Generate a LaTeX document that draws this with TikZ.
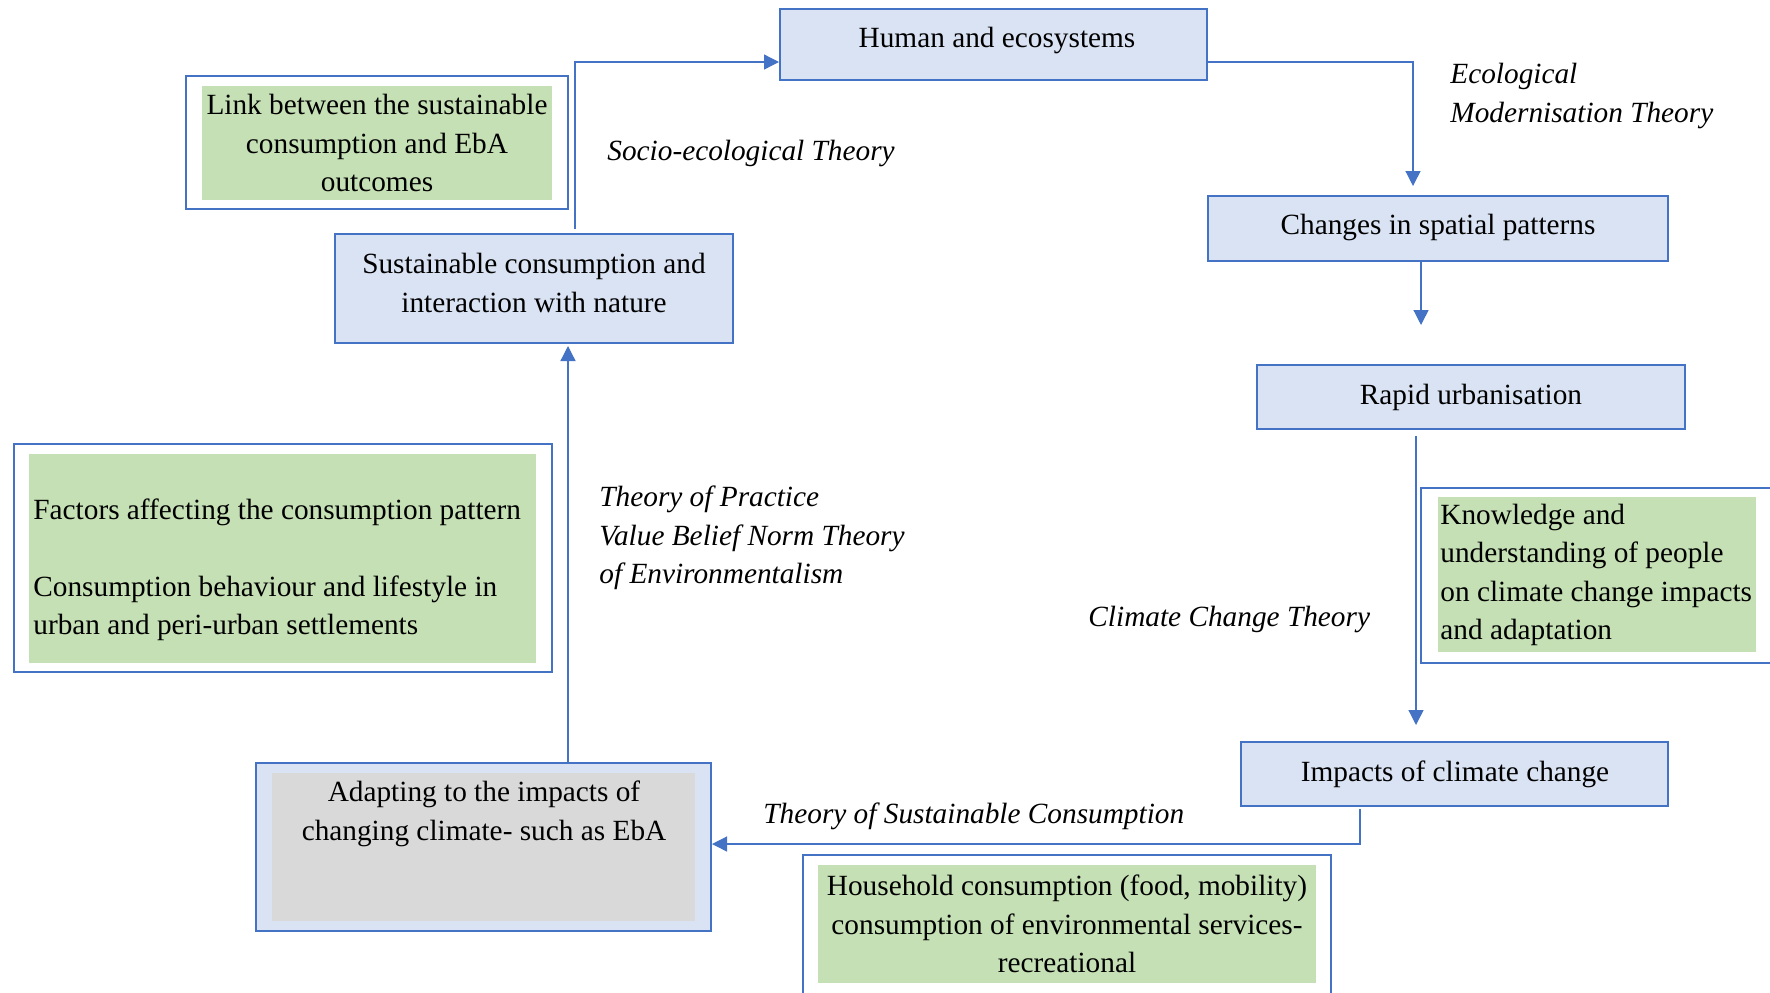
\documentclass[tikz,border=0pt]{standalone}
\usepackage{fontspec}
\setmainfont{Liberation Serif}
\usetikzlibrary{arrows.meta,calc,fit}

\definecolor{cblue}{HTML}{4472C4}
\definecolor{cfill}{HTML}{DAE3F3}
\definecolor{cgreen}{HTML}{C5E0B4}
\definecolor{cgray}{HTML}{D9D9D9}

\newcommand\diagfont{\fontsize{14.65}{19.25}\selectfont}

\tikzset{
  bluebox/.style={draw=cblue, fill=cfill, line width=1pt, inner sep=0pt},
  framebox/.style={draw=cblue, fill=white, line width=1pt, inner sep=0pt},
  greenbox/.style={fill=cgreen, draw=none, inner sep=0pt},
  graybox/.style={fill=cgray, draw=none, inner sep=0pt},
  txt/.style={inner sep=0pt, align=center},
  ltxt/.style={inner sep=0pt, align=left, anchor=west},
  theory/.style={inner sep=0pt, align=left, anchor=west, font=\diagfont\itshape},
  arr/.style={draw=cblue, line width=0.65pt, -{Triangle[length=7.5pt,width=7.5pt]}},
}

\begin{document}
\begin{tikzpicture}[x=0.5pt, y=-0.5pt, font=\diagfont]
\useasboundingbox (0,0) rectangle (1770,992);

% main process boxes
\node[bluebox, fit={(780,9) (1207,80)}] (human) {};
\node[bluebox, fit={(335,234) (733,343)}] (sust) {};
\node[bluebox, fit={(1208,196) (1668,261)}] (changes) {};
\node[bluebox, fit={(1257,365) (1685,429)}] (rapid) {};
\node[bluebox, fit={(1241,742) (1668,806)}] (impacts) {};
\node[bluebox, fit={(256,763) (711,931)}] (adapt) {};
\node[graybox, fit={(272,773) (695,921)}] (adaptin) {};

% framed green notes
\node[framebox, fit={(186,76) (568,209)}] (link) {};
\node[greenbox, fit={(202,86) (552,200)}] (linkin) {};
\node[framebox, fit={(14,444) (552,672)}] (factors) {};
\node[greenbox, fit={(29,454) (536,663)}] (factorsin) {};
\node[framebox, fit={(1421,488) (1780,663)}] (know) {};
\node[greenbox, fit={(1438,497) (1756,652)}] (knowin) {};
\node[framebox, fit={(803,855) (1331,1000)}] (house) {};
\node[greenbox, fit={(818,865) (1316,983)}] (housein) {};

% box texts
\node[txt] (human-t) at (997,40) {Human and ecosystems};
\node[txt] (sust-t) at (534,283) {Sustainable consumption and\\interaction with nature};
\node[txt] (changes-t) at (1438,227) {Changes in spatial patterns};
\node[txt] (rapid-t) at (1471,397) {Rapid urbanisation};
\node[txt] (impacts-t) at (1455,774) {Impacts of climate change};
\node[txt] (adapt-t) at (484,814) {Adapting to the impacts of\\changing climate- such as EbA};
\node[txt] (link-t) at (377,143) {Link between the sustainable\\consumption and EbA\\outcomes};
\node[ltxt] (factors-t) at (33,570) {Factors affecting the consumption pattern\\[19.25pt]Consumption behaviour and lifestyle in\\urban and peri-urban settlements};
\node[ltxt] (know-t) at (1440,575) {Knowledge and\\understanding of people\\on climate change impacts\\and adaptation};
\node[txt] (house-t) at (1067,924) {Household consumption (food, mobility)\\consumption of environmental services-\\recreational};

% theory labels
\node[theory] (th-socio) at (607,153) {Socio-ecological Theory};
\node[theory] (th-eco) at (1450,96) {Ecological\\Modernisation Theory};
\node[theory] (th-prac) at (599,538) {Theory of Practice\\Value Belief Norm Theory\\of Environmentalism};
\node[theory] (th-clim) at (1088,619) {Climate Change Theory};
\node[theory] (th-sc) at (763,816) {Theory of Sustainable Consumption};

% connectors
\draw[arr] ($(sust.north)+(41,-4)$) |- ($(human.south west)+(0,-19)$);
\draw[arr] ($(human.north east)+(0,54)$) -| ($(changes.north west)+(206,-9)$);
\draw[arr] ($(changes.south)+(-17,0)$) -- ($(rapid.north)+(-50,-39)$);
\draw[arr] ($(rapid.south)+(-55,6)$) -- ($(impacts.north)+(-38.5,-16)$);
\draw[arr] ($(impacts.south)+(-94.5,2)$) |- ($(adapt.east)+(0,-3)$);
\draw[arr] ($(adapt.north)+(84.5,0)$) -- ($(sust.south)+(34,2)$);
\end{tikzpicture}
\end{document}
